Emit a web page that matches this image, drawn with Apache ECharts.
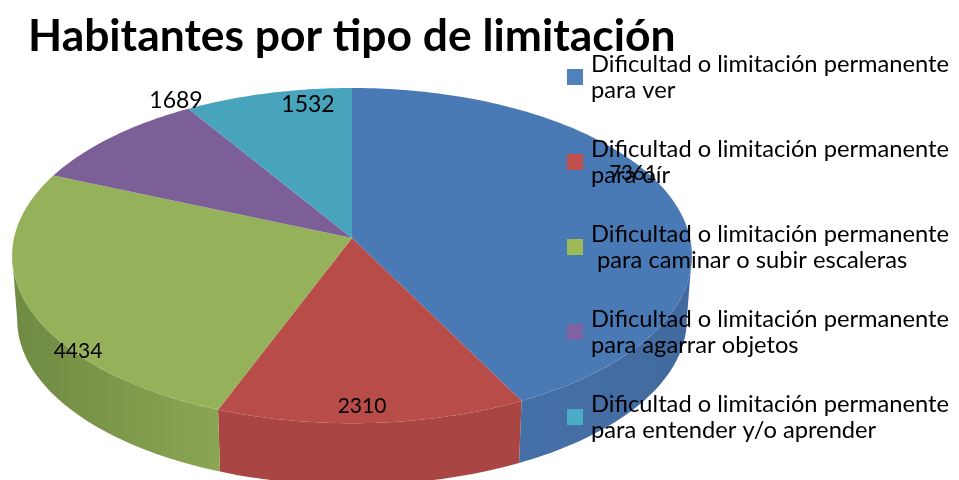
<!DOCTYPE html>
<html>
<head>
<meta charset="utf-8">
<style>
  html, body { margin: 0; padding: 0; background: #fff; }
  #chart { width: 959px; height: 480px; }
</style>
<script src="https://cdn.jsdelivr.net/npm/echarts@6/dist/echarts.min.js"></script>
</head>
<body>
<div id="chart"></div>
<script>
const titleText = 'Habitantes por tipo de limitación';
const categories = [
    'Dificultad o limitación permanente\npara ver',
    'Dificultad o limitación permanente\npara oír',
    'Dificultad o limitación permanente\n para caminar o subir escaleras',
    'Dificultad o limitación permanente\npara agarrar objetos',
    'Dificultad o limitación permanente\npara entender y/o aprender'
];
const values = [7361, 2310, 4434, 1689, 1532];

const legendColors = ['#4f81bd', '#c0504d', '#9bbb59', '#8064a2', '#4bacc6'];
const topColors = ['#4a7ab5', '#b74c49', '#95b25a', '#7c5f97', '#48a3bd'];
const sideLeft = ['#4570a7', '#a94644', '#6f8a42', '#6f8a42', '#6f8a42'];
const sideRight = ['#426a9f', '#a94644', '#8ba653', '#8ba653', '#8ba653'];

// where the value labels sit, the original has them hand placed
const labelPos = [[633, 173], [362, 406], [78, 351], [176, 101], [308, 105]];
const labelSize = [20.5, 21, 21, 23, 23];

const total = values.reduce((a, b) => a + b, 0);

// pie in perspective
const cx = 352, apexY = 238;
const R = 338, B = 165.75, K = 0.105;
const depthY = 320.3, ellipseY = 256, lowerScale = 0.985;
const wallFrom = 96, wallTo = 264;

const rimTop = (deg) => {
    const t = deg * Math.PI / 180;
    const w = 1 + K * Math.cos(t);
    return [cx + R * Math.sin(t) / w, apexY - B * Math.cos(t) / w];
};
const rimLow = (deg) => {
    const p = rimTop(deg);
    return [cx + lowerScale * (p[0] - cx), depthY + lowerScale * (p[1] - ellipseY)];
};
const arc = (from, to, fn) => {
    const pts = [];
    const n = Math.max(2, Math.ceil(Math.abs(to - from)));
    for (let i = 0; i <= n; i++) {
        pts.push(fn(from + (to - from) * i / n));
    }
    return pts;
};

const makeRender = (i) => (params, api) => {
    const before = values.slice(0, i).reduce((a, b) => a + b, 0);
    const start = before / total * 360;
    const end = start + api.value(0) / total * 360;
    const children = [];

    // front wall, only the part that faces us
    const a = Math.max(start, wallFrom), b = Math.min(end, wallTo);
    if (b > a) {
        const upper = arc(a, b, rimTop);
        const lower = arc(b, a, rimLow);
        children.push({
            type: 'polygon',
            z2: 1,
            shape: { points: upper.concat(lower) },
            style: {
                fill: new echarts.graphic.LinearGradient(0, 0, 1, 0, [
                    { offset: 0, color: sideLeft[i] },
                    { offset: 1, color: sideRight[i] }
                ])
            }
        });
    }

    // top face
    children.push({
        type: 'polygon',
        z2: 2,
        shape: { points: [[cx, apexY]].concat(arc(start, end, rimTop)) },
        style: { fill: topColors[i] }
    });

    children.push({
        type: 'text',
        z2: 3,
        style: {
            text: String(api.value(0)),
            x: labelPos[i][0],
            y: labelPos[i][1],
            align: 'center',
            verticalAlign: 'middle',
            fill: '#000',
            font: labelSize[i] + 'px Lato'
        }
    });
    return { type: 'group', children: children };
};

const chart = echarts.init(document.getElementById('chart'), null, { renderer: 'canvas' });
chart.setOption({
    animation: false,
    backgroundColor: '#fff',
    title: {
        text: titleText,
        left: 23,
        top: 10,
        textStyle: { fontFamily: 'Lato', fontWeight: 'bold', fontSize: 44.4, color: '#000' }
    },
    legend: {
        orient: 'vertical',
        left: 562,
        top: 46,
        icon: 'rect',
        itemWidth: 16,
        itemHeight: 16,
        itemGap: 33,
        selectedMode: false,
        textStyle: { fontFamily: 'Lato', fontSize: 23.7, lineHeight: 26, color: '#000', padding: [0, 0, 0, 3] },
        data: categories
    },
    series: categories.map((name, i) => ({
        type: 'custom',
        name: name,
        coordinateSystem: 'none',
        silent: true,
        itemStyle: { color: legendColors[i] },
        data: [values[i]],
        renderItem: makeRender(i)
    }))
});
</script>
</body>
</html>
